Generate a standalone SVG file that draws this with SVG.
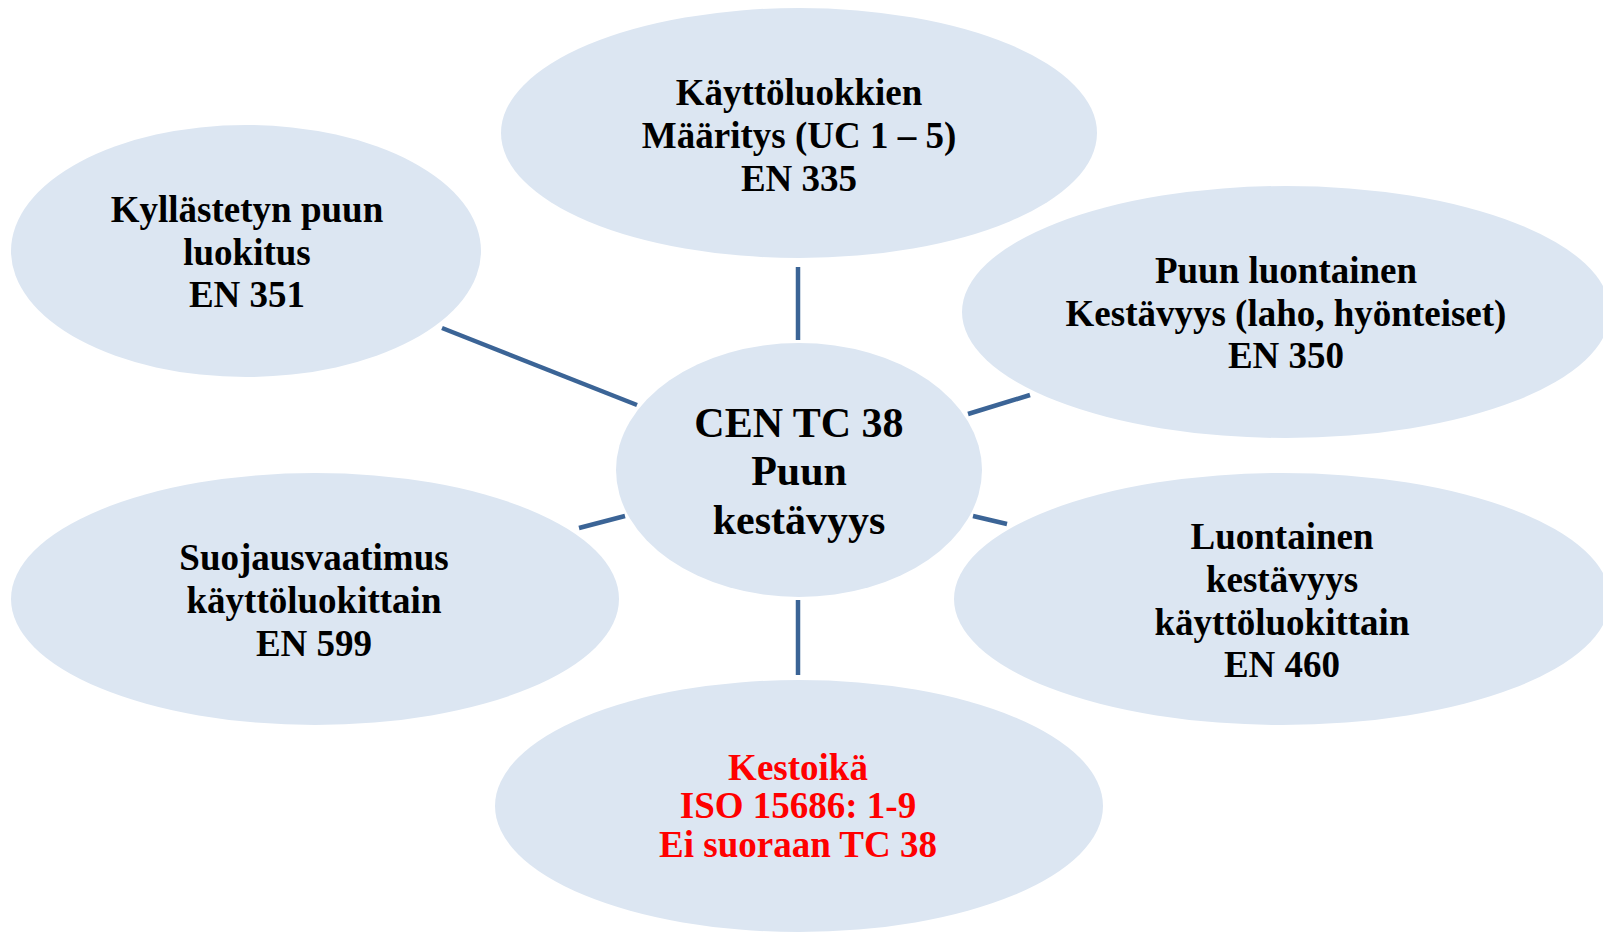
<svg xmlns="http://www.w3.org/2000/svg" width="1603" height="934" viewBox="0 0 1603 934">
<style>
.n{fill:#DCE6F2;stroke:none}
.t{font-family:"Liberation Serif","Times New Roman",serif;font-weight:bold;font-size:37px;fill:#000;text-anchor:middle}
.c{font-size:42px}
.r{fill:#FF0000}
.e{stroke:#3B6496;stroke-width:4.5;fill:none}
</style>
<rect width="1603" height="934" fill="#fff"/>
<g id="connectors">
<line class="e" x1="798" y1="267" x2="798" y2="340"/>
<line class="e" x1="442" y1="328" x2="637" y2="405"/>
<line class="e" x1="1030" y1="395" x2="968" y2="414"/>
<line class="e" x1="579" y1="528" x2="625" y2="516"/>
<line class="e" x1="973" y1="516" x2="1007" y2="524"/>
<line class="e" x1="798" y1="600" x2="798" y2="675"/>
</g>
<g id="node-en335">
<ellipse class="n" cx="799" cy="133" rx="298" ry="125"/>
<text class="t" x="799" y="105">Käyttöluokkien</text>
<text class="t" x="799" y="148">Määritys (UC 1 – 5)</text>
<text class="t" x="799" y="191">EN 335</text>
</g>
<g id="node-en351">
<ellipse class="n" cx="246" cy="251" rx="235" ry="126"/>
<text class="t" x="247" y="222">Kyllästetyn puun</text>
<text class="t" x="247" y="265">luokitus</text>
<text class="t" x="247" y="307">EN 351</text>
</g>
<g id="node-en350">
<ellipse class="n" cx="1286" cy="312" rx="324" ry="126"/>
<text class="t" x="1286" y="283">Puun luontainen</text>
<text class="t" x="1286" y="326">Kestävyys (laho, hyönteiset)</text>
<text class="t" x="1286" y="368">EN 350</text>
</g>
<g id="node-en599">
<ellipse class="n" cx="315" cy="599" rx="304" ry="126"/>
<text class="t" x="314" y="570">Suojausvaatimus</text>
<text class="t" x="314" y="613">käyttöluokittain</text>
<text class="t" x="314" y="656">EN 599</text>
</g>
<g id="node-en460">
<ellipse class="n" cx="1282" cy="599" rx="328" ry="126"/>
<text class="t" x="1282" y="549">Luontainen</text>
<text class="t" x="1282" y="592">kestävyys</text>
<text class="t" x="1282" y="635">käyttöluokittain</text>
<text class="t" x="1282" y="677">EN 460</text>
</g>
<g id="node-iso15686">
<ellipse class="n" cx="799" cy="806" rx="304" ry="126"/>
<text class="t r" x="798" y="780">Kestoikä</text>
<text class="t r" x="798" y="818">ISO 15686: 1-9</text>
<text class="t r" x="798" y="857">Ei suoraan TC 38</text>
</g>
<g id="node-center">
<ellipse class="n" cx="799" cy="470" rx="183" ry="127"/>
<text class="t c" x="799" y="437">CEN TC 38</text>
<text class="t c" x="799" y="485">Puun</text>
<text class="t c" x="799" y="534">kestävyys</text>
</g>
</svg>
